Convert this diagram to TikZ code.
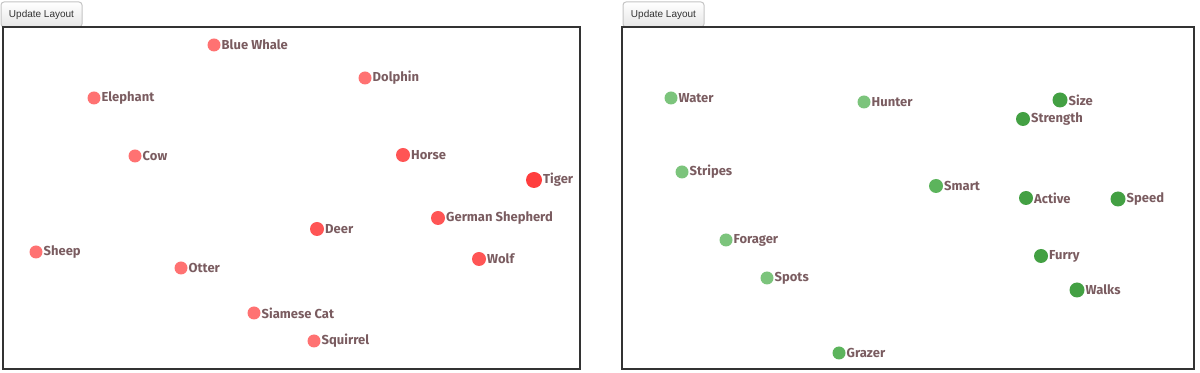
\documentclass[tikz,border=0pt]{standalone}
\usepackage{fontspec}
\setmainfont{Fira Sans}
\newfontfamily\btnfont{Liberation Sans}
\usetikzlibrary{positioning}

\definecolor{labelbrown}{HTML}{7A5C60}
\definecolor{redlight}{HTML}{FF7272}
\definecolor{redmid}{HTML}{FF5555}
\definecolor{reddark}{HTML}{FF3E3E}
\definecolor{greenlight}{HTML}{7CC47C}
\definecolor{greenmid}{HTML}{5CB45C}
\definecolor{greendark}{HTML}{43A043}
\definecolor{framegray}{HTML}{333333}
\definecolor{btnborder}{HTML}{C4C4C4}

\tikzset{
  dot/.style={circle,inner sep=0pt,draw=none},
  lbl/.style={anchor=west,inner sep=0.2pt,text=labelbrown,font=\fontsize{6.5pt}{7pt}\selectfont\bfseries},
  btn/.style={draw=btnborder,rounded corners=1.5pt,top color=white,bottom color=black!10,line width=0.5pt,
              text=black!80,font=\btnfont\fontsize{5pt}{6pt}\selectfont,minimum width=40.5pt,minimum height=12.5pt,inner sep=0pt},
  panel/.style={draw=framegray,line width=0.7pt}
}

\begin{document}
\begin{tikzpicture}[x=0.5pt,y=-0.5pt]
\useasboundingbox (0,0) rectangle (1200,373);

% left panel: animals
\node[btn] (btnA) at (41.5,14.5) {Update Layout};
\draw[panel] (3,27) rectangle (580,369);

\node[dot,fill=redlight,minimum size=6.5pt] (whale) at (214,45) {};
\node[dot,fill=redlight,minimum size=6.5pt] (dolphin) at (365,78) {};
\node[dot,fill=redlight,minimum size=6.5pt] (elephant) at (94,98) {};
\node[dot,fill=redlight,minimum size=6.5pt] (cow) at (135,156) {};
\node[dot,fill=redmid,minimum size=7pt] (horse) at (403,155) {};
\node[dot,fill=reddark,minimum size=8pt] (tiger) at (534,180) {};
\node[dot,fill=redmid,minimum size=7pt] (shepherd) at (438,218) {};
\node[dot,fill=redmid,minimum size=7pt] (deer) at (317,229) {};
\node[dot,fill=redlight,minimum size=6.5pt] (sheep) at (36,252) {};
\node[dot,fill=redlight,minimum size=6.5pt] (otter) at (181,268) {};
\node[dot,fill=redmid,minimum size=7pt] (wolf) at (479,259) {};
\node[dot,fill=redlight,minimum size=6.5pt] (cat) at (254,313) {};
\node[dot,fill=redlight,minimum size=6.5pt] (squirrel) at (314,341) {};

\node[lbl] (whaleL) at (whale.east) {Blue Whale};
\node[lbl] (dolphinL) at (dolphin.east) {Dolphin};
\node[lbl] (elephantL) at (elephant.east) {Elephant};
\node[lbl] (cowL) at (cow.east) {Cow};
\node[lbl] (horseL) at (horse.east) {Horse};
\node[lbl] (tigerL) at (tiger.east) {Tiger};
\node[lbl] (shepherdL) at (shepherd.east) {German Shepherd};
\node[lbl] (deerL) at (deer.east) {Deer};
\node[lbl] (sheepL) at (sheep.east) {Sheep};
\node[lbl] (otterL) at (otter.east) {Otter};
\node[lbl] (wolfL) at (wolf.east) {Wolf};
\node[lbl] (catL) at (cat.east) {Siamese Cat};
\node[lbl] (squirrelL) at (squirrel.east) {Squirrel};

% right panel: features
\node[btn] (btnB) at (663.5,14.5) {Update Layout};
\draw[panel] (622,27) rectangle (1194,369);

\node[dot,fill=greenlight,minimum size=6.5pt] (water) at (671,98) {};
\node[dot,fill=greenlight,minimum size=6.5pt] (hunter) at (864,102) {};
\node[dot,fill=greendark,minimum size=7.5pt] (size) at (1060,100) {};
\node[dot,fill=greendark,minimum size=7pt] (strength) at (1023,119) {};
\node[dot,fill=greenlight,minimum size=6.5pt] (stripes) at (682,172) {};
\node[dot,fill=greenmid,minimum size=7pt] (smart) at (936,186) {};
\node[dot,fill=greendark,minimum size=7pt] (active) at (1026,198) {};
\node[dot,fill=greendark,minimum size=7.5pt] (speed) at (1118,199) {};
\node[dot,fill=greenlight,minimum size=6.5pt] (forager) at (726,240) {};
\node[dot,fill=greenlight,minimum size=6.5pt] (spots) at (767,278) {};
\node[dot,fill=greendark,minimum size=7pt] (furry) at (1041,256) {};
\node[dot,fill=greendark,minimum size=7.5pt] (walks) at (1077,290) {};
\node[dot,fill=greenmid,minimum size=6.5pt] (grazer) at (839,353) {};

\node[lbl] (waterL) at (water.east) {Water};
\node[lbl] (hunterL) at (hunter.east) {Hunter};
\node[lbl] (sizeL) at (size.east) {Size};
\node[lbl] (strengthL) at (strength.east) {Strength};
\node[lbl] (stripesL) at (stripes.east) {Stripes};
\node[lbl] (smartL) at (smart.east) {Smart};
\node[lbl] (activeL) at (active.east) {Active};
\node[lbl] (speedL) at (speed.east) {Speed};
\node[lbl] (foragerL) at (forager.east) {Forager};
\node[lbl] (spotsL) at (spots.east) {Spots};
\node[lbl] (furryL) at (furry.east) {Furry};
\node[lbl] (walksL) at (walks.east) {Walks};
\node[lbl] (grazerL) at (grazer.east) {Grazer};

\end{tikzpicture}
\end{document}
